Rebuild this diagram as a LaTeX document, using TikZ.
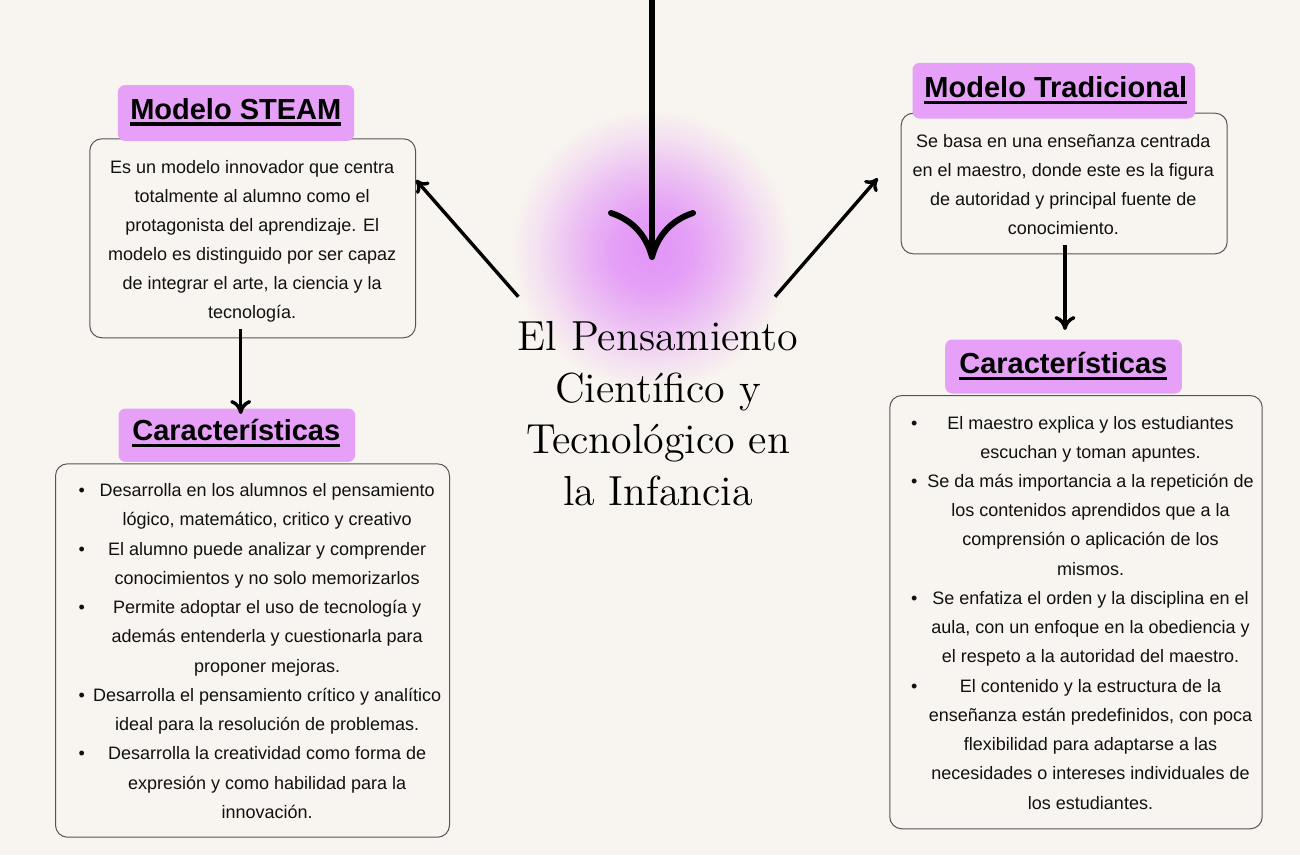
\documentclass[tikz,border=0pt]{standalone}
\usepackage{fontspec}
\newfontfamily\sansf{Liberation Sans}
\newfontfamily\titlef{lmroman12-regular}[Extension=.otf]
\usetikzlibrary{arrows.meta}
\definecolor{bg}{HTML}{F8F4EF}
\definecolor{lblpink}{HTML}{E6A0F8}
\definecolor{glowc}{HTML}{E294F7}
\definecolor{ink}{HTML}{111111}
\definecolor{frame}{HTML}{555555}
\pgfdeclareradialshading{glowshade}{\pgfpoint{0bp}{0bp}}{color(0bp)=(glowc); color(7bp)=(glowc!88!bg); color(14bp)=(glowc!55!bg); color(20bp)=(glowc!22!bg); color(25bp)=(bg); color(50bp)=(bg)}
\newcommand\ulhead[1]{\setbox0\hbox{#1}\rlap{\raisebox{-6.7pt}[0pt][0pt]{\rule{\wd0}{3.3pt}}}\box0}
\begin{document}
\begin{tikzpicture}[x=1pt,y=-1pt,
  body/.style={font=\sansf\fontsize{18}{22}\selectfont, text=ink, anchor=base, inner sep=0pt},
  headtxt/.style={font=\sansf\bfseries\fontsize{29}{34}\selectfont, text=black, anchor=base, inner sep=0pt},
  box/.style={draw=frame, line width=1pt, rounded corners=12pt, fill=bg, anchor=north west, inner sep=0pt},
  lbl/.style={fill=lblpink, rounded corners=7pt, anchor=north west, inner sep=0pt},
  arr/.style={line width=3.4pt, draw=black, -{Computer Modern Rightarrow[length=14pt,width=21pt]}},
  darr/.style={line width=3.4pt, draw=black, -{Computer Modern Rightarrow[length=12pt,width=17pt]}},
  toparr/.style={line width=6pt, draw=black, -{Computer Modern Rightarrow[length=50pt,width=88pt]}}
]
\useasboundingbox (0,0) rectangle (1300,855);
\fill[bg] (0,0) rectangle (1300,855);
\shade[shading=glowshade] (652,250) circle (140pt);

% boxes
\node[box, minimum width=325.7pt, minimum height=199pt] (steamBox) at (89.3,138.3) {};
\node[box, minimum width=326pt, minimum height=140.6pt] (tradBox) at (900.7,112.7) {};
\node[box, minimum width=394pt, minimum height=373.4pt] (steamCar) at (55,463.3) {};
\node[box, minimum width=372.4pt, minimum height=433.3pt] (tradCar) at (889.3,395) {};

% labels
\node[lbl, minimum width=236.3pt, minimum height=55.7pt] (steamLbl) at (117.7,85) {};
\node[lbl, minimum width=282.7pt, minimum height=55.6pt] (tradLbl) at (912.3,62.7) {};
\node[lbl, minimum width=236.7pt, minimum height=53.4pt] (carLblL) at (118.3,408.3) {};
\node[lbl, minimum width=236.7pt, minimum height=54pt] (carLblR) at (945,339.3) {};

\node[headtxt] (steamHead) at (235.8,119) {\ulhead{Modelo STEAM}};
\node[headtxt] (tradHead) at (1055.8,97.3) {\ulhead{Modelo Tradicional}};
\node[headtxt] (carHeadL) at (236.3,440.7) {\ulhead{Características}};
\node[headtxt] (carHeadR) at (1063.3,373.3) {\ulhead{Características}};

% STEAM box text
\foreach \t [count=\i from 0] in {
  {Es un modelo innovador que centra},
  {totalmente al alumno como el},
  {protagonista del aprendizaje. El},
  {modelo es distinguido por ser capaz},
  {de integrar el arte, la ciencia y la},
  {tecnología.}}
  \node[body] (steamT\i) at (252.2,{173.3+29*\i}) {\t};

% Tradicional box text
\foreach \t [count=\i from 0] in {
  {Se basa en una enseñanza centrada},
  {en el maestro, donde este es la figura},
  {de autoridad y principal fuente de},
  {conocimiento.}}
  \node[body] (tradT\i) at (1063.3,{147.3+29.2*\i}) {\t};

% left characteristics
\foreach \t [count=\i from 0] in {
  {Desarrolla en los alumnos el pensamiento},
  {lógico, matemático, critico y creativo},
  {El alumno puede analizar y comprender},
  {conocimientos y no solo memorizarlos},
  {Permite adoptar el uso de tecnología y},
  {además entenderla y cuestionarla para},
  {proponer mejoras.},
  {Desarrolla el pensamiento crítico y analítico},
  {ideal para la resolución de problemas.},
  {Desarrolla la creatividad como forma de},
  {expresión y como habilidad para la},
  {innovación.}}
  \node[body] (carLT\i) at (267.2,{496.7+29.24*\i}) {\t};
\foreach \i in {0,2,4,7,9}
  \node[body] (carLB\i) at (81.7,{496.7+29.24*\i}) {•};

% right characteristics
\foreach \t [count=\i from 0] in {
  {El maestro explica y los estudiantes},
  {escuchan y toman apuntes.},
  {Se da más importancia a la repetición de},
  {los contenidos aprendidos que a la},
  {comprensión o aplicación de los},
  {mismos.},
  {Se enfatiza el orden y la disciplina en el},
  {aula, con un enfoque en la obediencia y},
  {el respeto a la autoridad del maestro.},
  {El contenido y la estructura de la},
  {enseñanza están predefinidos, con poca},
  {flexibilidad para adaptarse a las},
  {necesidades o intereses individuales de},
  {los estudiantes.}}
  \node[body] (carRT\i) at (1090.5,{429+29.23*\i}) {\t};
\foreach \i in {0,2,6,9}
  \node[body] (carRB\i) at (914.3,{429+29.23*\i}) {•};

% title
\node[font=\titlef\fontsize{42}{51.7}\selectfont, text=black, align=center, inner sep=0pt] (title) at (658,413.5)
  {El Pensamiento\\Científico y\\Tecnológico en\\la Infancia};

% connectors
\coordinate (topStart) at (652,-4);
\coordinate (topTip) at (652,260);
\coordinate (lTail) at (518.3,296.7);
\coordinate (lTip) at (416,180);
\coordinate (rTail) at (775,296.7);
\coordinate (rTip) at (877.7,178.3);
\coordinate (steamOut) at (240.7,329.3);
\coordinate (steamIn) at (240.7,414);
\coordinate (tradOut) at (1065,245);
\coordinate (tradIn) at (1065,330);

\draw[toparr] (topStart) -- (topTip);
\draw[darr] (lTail) -- (lTip);
\draw[darr] (rTail) -- (rTip);
\draw[arr] (steamOut) -- (steamIn);
\draw[arr] (tradOut) -- (tradIn);
\end{tikzpicture}
\end{document}
